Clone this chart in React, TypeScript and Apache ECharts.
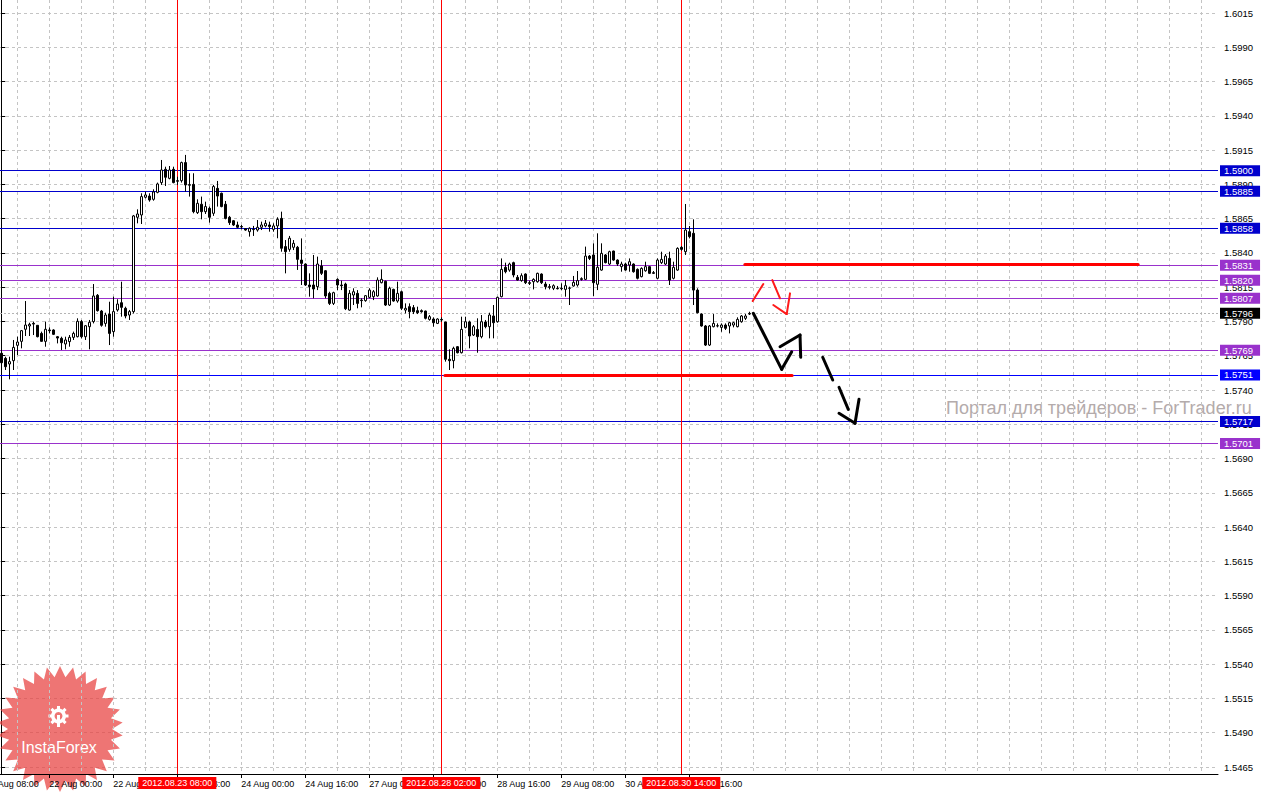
import React, { useEffect, useRef } from "react";
import * as echarts from "echarts";

// ---------- DATA (GBPUSD H1, bar index 0 = 21 Aug 12:00) ----------
const opens = [
  1.57668, 1.57631, 1.5759, 1.57614, 1.57726, 1.57755, 1.57843, 1.57867, 1.57886, 1.57872,
  1.57813, 1.57755, 1.57838, 1.57838, 1.57789, 1.57777, 1.57736, 1.57753, 1.57784, 1.57789,
  1.57899, 1.57789, 1.57862, 1.57899, 1.58091, 1.57976, 1.57886, 1.57954, 1.57826, 1.57984,
  1.58037, 1.57996, 1.57947, 1.57972, 1.5866, 1.58677, 1.58806, 1.58815, 1.58791, 1.58842,
  1.58913, 1.5901, 1.58944, 1.5901, 1.58927, 1.58927, 1.59059, 1.58898, 1.589, 1.58694,
  1.58755, 1.58701, 1.58725, 1.58689, 1.58871, 1.58835, 1.58755, 1.5866, 1.58635, 1.58604,
  1.58592, 1.58577, 1.58555, 1.58572, 1.58567, 1.58587, 1.58597, 1.58604, 1.58572, 1.58597,
  1.58652, 1.58446, 1.58426, 1.58441, 1.58441, 1.58348, 1.58319, 1.58166, 1.58166, 1.58154,
  1.58305, 1.5827, 1.58105, 1.58032, 1.58207, 1.58166, 1.58173, 1.57983, 1.58093, 1.58105,
  1.58056, 1.58052, 1.58076, 1.58081, 1.58086, 1.58183, 1.58193, 1.5802, 1.58134, 1.58049,
  1.58117, 1.57983, 1.58008, 1.58001, 1.57979, 1.57979, 1.57976, 1.57915, 1.57918, 1.57886,
  1.57915, 1.57896, 1.57624, 1.57614, 1.57716, 1.57672, 1.57857, 1.57896, 1.57801, 1.57842,
  1.57789, 1.57896, 1.57862, 1.5794, 1.57898, 1.58081, 1.58295, 1.58275, 1.58329, 1.58222,
  1.58198, 1.58246, 1.58183, 1.5819, 1.5819, 1.58246, 1.58173, 1.58154, 1.58142, 1.58142,
  1.58142, 1.58134, 1.58142, 1.58159, 1.58166, 1.58212, 1.58207, 1.58377, 1.58385, 1.58171,
  1.58275, 1.58385, 1.58319, 1.58414, 1.58348, 1.583, 1.58319, 1.58312, 1.58319, 1.5828,
  1.58227, 1.5827, 1.583, 1.58256, 1.58215, 1.58329, 1.58319, 1.5836, 1.58215, 1.58275,
  1.58441, 1.58409, 1.58555, 1.58543, 1.58129, 1.57954, 1.57867, 1.57728, 1.57862, 1.57867,
  1.57857, 1.57874, 1.57867, 1.57874, 1.57862, 1.57898, 1.57923, 1.57954,
];
const closes = [
  1.57599, 1.5757, 1.57607, 1.57711, 1.5775, 1.57833, 1.57874, 1.57879, 1.57881, 1.57789,
  1.57755, 1.57843, 1.57833, 1.57806, 1.57779, 1.57745, 1.57765, 1.57784, 1.57813, 1.57901,
  1.57789, 1.57869, 1.57894, 1.58086, 1.57979, 1.57872, 1.57947, 1.57813, 1.57972, 1.58027,
  1.58003, 1.5794, 1.57972, 1.5867, 1.58684, 1.58811, 1.58823, 1.58786, 1.58845, 1.58903,
  1.59005, 1.58952, 1.59005, 1.58913, 1.58923, 1.59059, 1.58896, 1.58894, 1.58701, 1.58762,
  1.58701, 1.58738, 1.5866, 1.58884, 1.58815, 1.58738, 1.58652, 1.58621, 1.58604, 1.58587,
  1.5859, 1.58567, 1.5858, 1.5857, 1.58587, 1.58604, 1.58616, 1.58592, 1.58597, 1.58645,
  1.58434, 1.58409, 1.58507, 1.5847, 1.58353, 1.58324, 1.58166, 1.58154, 1.58137, 1.58319,
  1.58251, 1.58086, 1.58032, 1.5811, 1.58166, 1.58161, 1.57993, 1.58105, 1.58117, 1.58032,
  1.58052, 1.58088, 1.58129, 1.58117, 1.58202, 1.58207, 1.5802, 1.58142, 1.58049, 1.58105,
  1.57996, 1.57996, 1.57971, 1.57971, 1.57964, 1.57971, 1.57923, 1.57935, 1.57891, 1.57918,
  1.57911, 1.57624, 1.57614, 1.57704, 1.57672, 1.57842, 1.57898, 1.57794, 1.57862, 1.57789,
  1.57898, 1.57862, 1.57947, 1.57891, 1.58076, 1.5828, 1.58263, 1.58319, 1.58239, 1.58202,
  1.58234, 1.58183, 1.58178, 1.58207, 1.58251, 1.58183, 1.58154, 1.58149, 1.58161, 1.58139,
  1.58139, 1.58161, 1.58144, 1.58185, 1.58198, 1.58207, 1.58377, 1.5836, 1.58183, 1.58295,
  1.58397, 1.58329, 1.58409, 1.58348, 1.58319, 1.58319, 1.58275, 1.58336, 1.58263, 1.58215,
  1.58287, 1.583, 1.58251, 1.58251, 1.58348, 1.58353, 1.58377, 1.58202, 1.58295, 1.58433,
  1.58426, 1.58567, 1.58519, 1.58129, 1.57964, 1.57867, 1.57728, 1.57867, 1.57886, 1.57869,
  1.57874, 1.5785, 1.57891, 1.57891, 1.57915, 1.5794, 1.5794, 1.57959,
];
const lows = [
  1.57558, 1.57546, 1.57478, 1.57546, 1.57655, 1.57704, 1.57794, 1.57794, 1.57801, 1.57784,
  1.57753, 1.57716, 1.57813, 1.57801, 1.5774, 1.57692, 1.57697, 1.57716, 1.57765, 1.57784,
  1.57777, 1.57765, 1.57697, 1.57886, 1.57972, 1.57862, 1.57862, 1.57728, 1.57789, 1.57972,
  1.57935, 1.57923, 1.57911, 1.57959, 1.58616, 1.58611, 1.58798, 1.58774, 1.58781, 1.58835,
  1.58896, 1.58888, 1.58937, 1.58908, 1.58896, 1.58913, 1.58847, 1.58811, 1.58689, 1.58684,
  1.58645, 1.58684, 1.58621, 1.5867, 1.58738, 1.58733, 1.58645, 1.58604, 1.58597, 1.5858,
  1.58572, 1.58562, 1.58519, 1.58524, 1.58555, 1.58567, 1.58587, 1.58555, 1.58555, 1.58507,
  1.58409, 1.58251, 1.58409, 1.58421, 1.58276, 1.58166, 1.58159, 1.58081, 1.58069, 1.58129,
  1.58239, 1.58069, 1.5802, 1.5802, 1.58129, 1.58129, 1.57983, 1.57979, 1.5802, 1.57996,
  1.58003, 1.58044, 1.58069, 1.58056, 1.58081, 1.58178, 1.58013, 1.58013, 1.58044, 1.58037,
  1.57983, 1.57959, 1.57923, 1.57954, 1.57954, 1.57964, 1.57915, 1.57906, 1.57862, 1.57881,
  1.57898, 1.57607, 1.57546, 1.57558, 1.57667, 1.57667, 1.5785, 1.57704, 1.57794, 1.57672,
  1.57777, 1.5785, 1.57777, 1.57777, 1.57891, 1.58076, 1.58251, 1.58263, 1.58222, 1.58198,
  1.5819, 1.58173, 1.58166, 1.58134, 1.58183, 1.58173, 1.58134, 1.58134, 1.58129, 1.58134,
  1.58129, 1.58081, 1.5802, 1.58154, 1.58154, 1.58198, 1.58202, 1.58348, 1.58086, 1.58129,
  1.5827, 1.58324, 1.58312, 1.58343, 1.58305, 1.58263, 1.5827, 1.58263, 1.58256, 1.58207,
  1.58222, 1.58263, 1.58246, 1.58246, 1.58207, 1.58319, 1.58312, 1.58166, 1.58207, 1.5827,
  1.58416, 1.58385, 1.58506, 1.5802, 1.57959, 1.57862, 1.57721, 1.57721, 1.57857, 1.57857,
  1.57825, 1.57838, 1.57813, 1.57857, 1.57857, 1.57891, 1.57911, 1.57947,
];
const highs = [
  1.57716, 1.57643, 1.57643, 1.57765, 1.57789, 1.57838, 1.58049, 1.57891, 1.57899, 1.57874,
  1.57826, 1.57899, 1.57857, 1.57843, 1.57794, 1.57789, 1.57789, 1.57801, 1.57826, 1.57923,
  1.57911, 1.57874, 1.57911, 1.58173, 1.581, 1.57984, 1.57964, 1.58044, 1.58081, 1.58062,
  1.5819, 1.58008, 1.57984, 1.58677, 1.58718, 1.58835, 1.58847, 1.58835, 1.58864, 1.58913,
  1.59078, 1.59029, 1.59034, 1.59029, 1.58956, 1.59066, 1.59115, 1.58981, 1.58981, 1.58791,
  1.58811, 1.58774, 1.58738, 1.58896, 1.58925, 1.5884, 1.58779, 1.5867, 1.5864, 1.58628,
  1.58604, 1.5858, 1.58587, 1.58597, 1.5864, 1.58628, 1.5864, 1.58628, 1.58616, 1.5866,
  1.58701, 1.58494, 1.58524, 1.58494, 1.58451, 1.58506, 1.58324, 1.58251, 1.58385, 1.58373,
  1.58348, 1.58275, 1.58117, 1.58117, 1.58215, 1.58198, 1.58183, 1.58129, 1.58142, 1.58129,
  1.58069, 1.58093, 1.58142, 1.58129, 1.58222, 1.5828, 1.58198, 1.58154, 1.58139, 1.5819,
  1.58125, 1.58032, 1.58032, 1.5802, 1.58008, 1.57988, 1.57979, 1.57947, 1.5793, 1.57923,
  1.5793, 1.57898, 1.57697, 1.57716, 1.57721, 1.57935, 1.57935, 1.57906, 1.57874, 1.57923,
  1.57947, 1.57911, 1.57964, 1.5802, 1.58081, 1.5836, 1.58329, 1.58329, 1.58336, 1.58239,
  1.58251, 1.58251, 1.58198, 1.58215, 1.58256, 1.58251, 1.5819, 1.58173, 1.58171, 1.58159,
  1.58178, 1.58202, 1.58154, 1.58232, 1.58268, 1.58222, 1.58446, 1.58385, 1.5847, 1.58543,
  1.5847, 1.58392, 1.58416, 1.58416, 1.58353, 1.58336, 1.58329, 1.5836, 1.58324, 1.58287,
  1.58295, 1.58336, 1.58305, 1.58268, 1.5836, 1.58409, 1.58392, 1.58409, 1.58336, 1.58441,
  1.5845, 1.58757, 1.58596, 1.58645, 1.58142, 1.57959, 1.57874, 1.57874, 1.57954, 1.57886,
  1.57886, 1.57886, 1.57898, 1.57898, 1.5793, 1.57947, 1.57954, 1.57971,
];

// price axis tick labels
const yTicks = [
  1.5465, 1.549, 1.5515, 1.554, 1.5565, 1.559, 1.5615, 1.564, 1.5665, 1.569, 1.5715, 1.574,
  1.5765, 1.579, 1.5815, 1.584, 1.5865, 1.589, 1.5915, 1.594, 1.5965, 1.599, 1.6015,
];
// vertical grid positions (bar index)
const xGridBars = [
  4, 12, 20, 28, 36, 44, 52, 60, 68, 76, 84, 92, 100, 108, 116, 124, 132, 140, 148, 156, 164,
  172, 180, 188, 196, 204, 212, 220, 228, 236, 244, 252, 260, 268, 276, 284, 292, 300,
];
// time axis labels
const xLabelBars = [-4, 12, 28, 44, 60, 76, 92, 108, 124, 140, 156, 172];
const xLabelTexts = [
  "21 Aug 08:00", "22 Aug 00:00", "22 Aug 16:00", "23 Aug 08:00", "24 Aug 00:00", "24 Aug 16:00",
  "27 Aug 08:00", "28 Aug 00:00", "28 Aug 16:00", "29 Aug 08:00", "30 Aug 00:00", "30 Aug 16:00",
];

// horizontal levels
const levelPrices = [1.59, 1.5885, 1.5858, 1.5831, 1.582, 1.5807, 1.5769, 1.5751, 1.5717, 1.5701];
const levelColors = [
  "#0000cd", "#0000cd", "#0000cd", "#9932cc", "#9932cc", "#9932cc", "#9932cc", "#0000ff", "#0000cd", "#9932cc",
];
const bidPrice = 1.5796;

// vertical time markers
const markerBars = [44, 110, 170];
const markerTexts = ["2012.08.23 08:00", "2012.08.28 02:00", "2012.08.30 14:00"];

// drawn segments [bar1, price1, bar2, price2]
const redLevelSegments = [
  [185.9, 1.5832, 284.2, 1.5832],
  [110.9, 1.57509, 197.7, 1.57509],
];
const redArrowSegments = [
  [187.85, 1.58049, 190.5, 1.58173],
  [192.75, 1.58202, 194.68, 1.58069],
  [193.0, 1.5802, 196.35, 1.57954],
  [196.35, 1.57954, 197.18, 1.58105],
];
const blackArrowSegments = [
  [188.0, 1.5796, 195.1, 1.57551],
  [195.1, 1.57551, 197.6, 1.57679],
  [194.68, 1.57716, 199.68, 1.57801],
  [199.68, 1.57801, 199.85, 1.57639],
  [205.35, 1.57639, 207.85, 1.57473],
  [209.43, 1.5742, 211.75, 1.57259],
  [209.43, 1.5723, 213.43, 1.57157],
  [213.43, 1.57157, 214.43, 1.57332],
];

const watermark = "Портал для трейдеров - ForTrader.ru";
const logoText = "InstaForex";

// ---------- FONTS ----------
const BASE_FONT = "Liberation Sans, Arial, sans-serif";

function hasFont(name: string): boolean {
  try {
    const ctx = document.createElement("canvas").getContext("2d");
    if (!ctx) return false;
    const sample = "1.6015 Aug 00:00 Wg";
    ctx.font = "20px monospace";
    const a = ctx.measureText(sample).width;
    ctx.font = `20px "${name}", monospace`;
    const b = ctx.measureText(sample).width;
    return Math.abs(a - b) > 0.5;
  } catch (e) {
    return false;
  }
}

type FontSet = { family: string; x: number; y: number; box: number; marker: number };

function pickFonts(): FontSet {
  if (hasFont("Liberation Sans Narrow")) {
    return { family: '"Liberation Sans Narrow", ' + BASE_FONT, x: 10, y: 11, box: 11, marker: 11 };
  }
  return { family: BASE_FONT, x: 9, y: 9.5, box: 9.5, marker: 9 };
}

// ---------- CHART ----------
const GRID_COLOR = "#c4c4c4";

function buildOption(F: FontSet) {
  const candleData = opens.map((o, i) => [i, o, closes[i], lows[i], highs[i]]);

  const boxLabel = (text: string, bg: string, position: string, distance: number, padding: number[], size: number) => ({
    show: true,
    position,
    distance,
    formatter: text,
    color: "#fff",
    backgroundColor: bg,
    padding,
    fontSize: size,
    lineHeight: 10,
    fontFamily: F.family,
  });

  const segs = (list: number[][], color: string, width: number) =>
    list.map(([x1, y1, x2, y2]) => [
      { coord: [x1, y1], lineStyle: { color, width, type: "solid", cap: "round" }, label: { show: false } },
      { coord: [x2, y2] },
    ]);

  const levelLines = levelPrices.map((p, i) => ({
    yAxis: p,
    lineStyle: { color: levelColors[i], width: 1, type: "solid" },
    label: boxLabel(p.toFixed(4), levelColors[i], "end", 2, [1, 7, 0, 4], F.box),
  }));

  const bidLine = {
    yAxis: bidPrice,
    lineStyle: { color: "#b4b4b4", width: 1, type: [2, 2] },
    label: boxLabel(bidPrice.toFixed(4), "#000000", "end", 2, [1, 7, 0, 4], F.box),
  };

  const markerLines = markerBars.map((b, i) => ({
    xAxis: b,
    lineStyle: { color: "#ff0000", width: 1, type: "solid" },
    label: boxLabel(markerTexts[i], "#ff0000", "start", 3, [1, 4, 1, 4], F.marker),
  }));

  return {
    animation: false,
    backgroundColor: "#ffffff",
    textStyle: { fontFamily: F.family },
    grid: { left: 0, right: 43, top: 0, bottom: 20, containLabel: false },
    xAxis: {
      type: "value",
      min: -0.325,
      max: 304.175,
      z: 3,
      axisLine: { show: true, onZero: false, lineStyle: { color: "#000", width: 1 } },
      axisTick: { show: false, customValues: xGridBars },
      axisLabel: {
        customValues: xLabelBars.filter((v) => v >= 0),
        formatter: (v: number) => xLabelTexts[xLabelBars.indexOf(Math.round(v))] || "",
        align: "left",
        margin: 5,
        color: "#000",
        fontSize: F.x,
        fontFamily: F.family,
      },
      splitLine: { show: true, lineStyle: { color: GRID_COLOR, width: 1, type: [3, 3] } },
    },
    yAxis: {
      type: "value",
      position: "right",
      min: 1.54599,
      max: 1.60245,
      axisLine: { show: true, lineStyle: { color: "#000", width: 1 } },
      axisTick: { show: true, length: 4, customValues: yTicks, lineStyle: { color: "#000" } },
      axisLabel: {
        customValues: yTicks,
        formatter: (v: number) => v.toFixed(4),
        margin: 6,
        color: "#000",
        fontSize: F.y,
        fontFamily: F.family,
      },
      splitLine: { show: true, lineStyle: { color: GRID_COLOR, width: 1, type: [3, 3] } },
    },
    series: [
      {
        type: "candlestick",
        z: 5,
        data: candleData,
        encode: { x: 0, y: [1, 2, 3, 4] },
        barWidth: 3,
        silent: true,
        itemStyle: {
          color: "#ffffff",
          color0: "#000000",
          borderColor: "#000000",
          borderColor0: "#000000",
          borderWidth: 1,
        },
        markLine: {
          silent: true,
          precision: 6,
          symbol: ["none", "none"],
          label: { show: false },
          emphasis: { disabled: true },
          data: [
            ...levelLines,
            bidLine,
            ...markerLines,
            ...segs(redLevelSegments, "#ff0000", 3),
            ...segs(redArrowSegments, "#ff1a1a", 2),
            ...segs(blackArrowSegments, "#000000", 3),
          ],
        },
      },
    ],
  };
}

function buildGraphics(chart: any, F: FontSet) {
  const cx = 60;
  const cy = 729;
  const pts: number[][] = [];
  const N = 30;
  for (let i = 0; i < 2 * N; i++) {
    const a = -Math.PI / 2 + (i * Math.PI) / N;
    const rr = i % 2 === 0 ? 63 : 52;
    pts.push([cx + rr * Math.cos(a), cy + rr * Math.sin(a)]);
  }
  const gx = 58.5;
  const gy = 716;
  const teeth: any[] = [];
  for (let i = 0; i < 8; i++) {
    const a = (i * Math.PI) / 4;
    teeth.push({
      type: "rect",
      z: 2,
      x: gx,
      y: gy,
      rotation: -a,
      shape: { x: -1.5, y: -10, width: 3, height: 4 },
      style: { fill: "#ffffff" },
    });
  }
  const axisY = chart.convertToPixel({ yAxisIndex: 0 }, 1.54599) as number;
  const labelTicks = xLabelBars.map((b) => {
    const px = Math.round(chart.convertToPixel({ xAxisIndex: 0 }, b) as number) + 0.5;
    return {
      type: "line",
      z: 4,
      shape: { x1: px, y1: axisY, x2: px, y2: axisY + 4 },
      style: { stroke: "#000", lineWidth: 1 },
    };
  });
  const firstX = chart.convertToPixel({ xAxisIndex: 0 }, xLabelBars[0]) as number;
  return [
    {
      type: "text",
      z: 1,
      x: 946,
      y: 408,
      style: {
        text: watermark,
        fill: "#b4abab",
        font: "18px " + BASE_FONT,
        textAlign: "left",
        textVerticalAlign: "middle",
        align: "left",
        verticalAlign: "middle",
      },
    },
    {
      type: "polygon",
      z: 1,
      shape: { points: pts },
      style: { fill: "#e8403f", opacity: 0.72 },
    },
    {
      type: "ring",
      z: 2,
      shape: { cx: gx, cy: gy, r: 7.5, r0: 4 },
      style: { fill: "#ffffff" },
    },
    ...teeth,
    {
      type: "rect",
      z: 2,
      shape: { x: gx - 1.5, y: gy - 1, width: 3, height: 12 },
      style: { fill: "#ffffff" },
    },
    {
      type: "text",
      z: 2,
      x: cx - 1,
      y: 747,
      style: {
        text: logoText,
        fill: "#ffffff",
        font: "16px " + BASE_FONT,
        textAlign: "center",
        textVerticalAlign: "middle",
        align: "center",
        verticalAlign: "middle",
      },
    },
    ...labelTicks,
    {
      type: "text",
      z: 4,
      x: firstX + 0.5,
      y: axisY + 5,
      style: {
        text: xLabelTexts[0],
        fill: "#000",
        font: F.x + "px " + F.family,
        textAlign: "left",
        textVerticalAlign: "top",
        align: "left",
        verticalAlign: "top",
      },
    },
  ];
}

export default function App() {
  const ref = useRef<HTMLDivElement>(null);
  useEffect(() => {
    document.body.style.margin = "0";
    const F = pickFonts();
    const chart = echarts.init(ref.current as HTMLDivElement, null, { renderer: "svg" });
    chart.setOption(buildOption(F) as any);
    chart.setOption({ graphic: buildGraphics(chart, F) } as any);
    return () => chart.dispose();
  }, []);
  return <div ref={ref} style={{ width: 1261, height: 794 }} />;
}
